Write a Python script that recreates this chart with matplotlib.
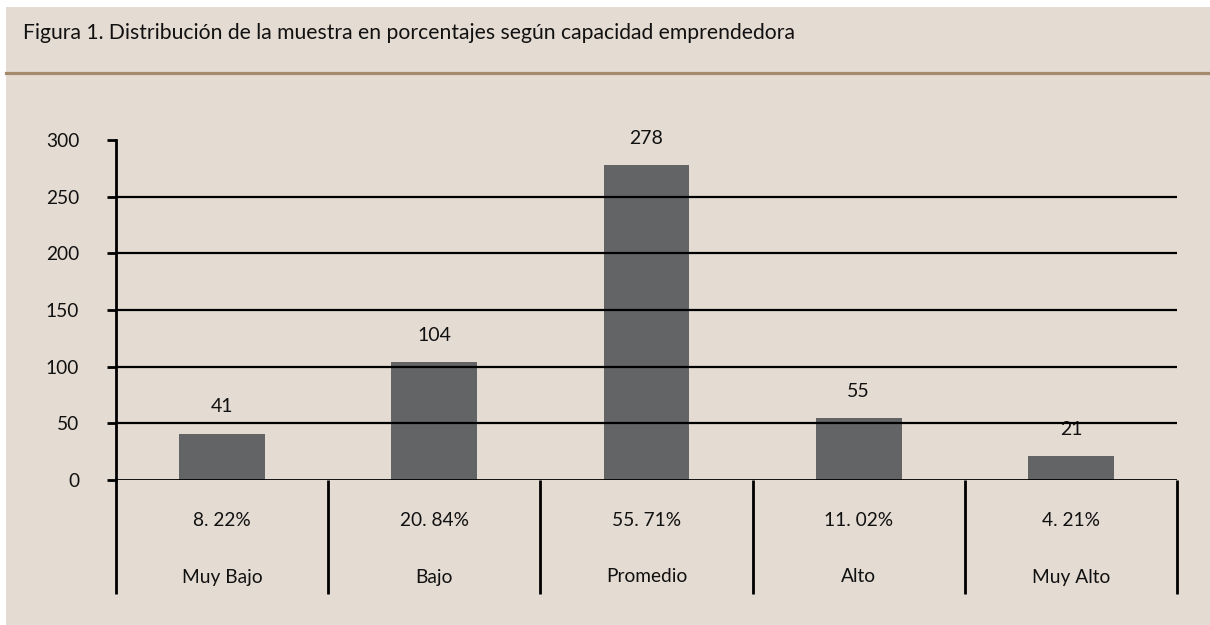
import matplotlib
matplotlib.use("Agg")
import matplotlib.pyplot as plt
from matplotlib import font_manager
from matplotlib.patches import Rectangle
from matplotlib.lines import Line2D

categories = ["Muy Bajo", "Bajo", "Promedio", "Alto", "Muy Alto"]
counts = [41, 104, 278, 55, 21]
percent_labels = ["8. 22%", "20. 84%", "55. 71%", "11. 02%", "4. 21%"]
yticks = [0, 50, 100, 150, 200, 250, 300]
title = "Figura 1. Distribución de la muestra en porcentajes según capacidad emprendedora"

names = {f.name for f in font_manager.fontManager.ttflist}
font = "DejaVu Sans"
for cand in ["Lato", "Open Sans", "Noto Sans"]:
    if cand in names:
        font = cand
        break
plt.rcParams["font.family"] = [font, "DejaVu Sans"]

W, H = 1210, 625
fig = plt.figure(figsize=(W / 100, H / 100), dpi=100, facecolor="white")
bg = "#e4dcd3"
fig.patches.append(Rectangle((6 / W, 0), 1 - 6 / W, 1 - 7 / H, transform=fig.transFigure,
                             facecolor=bg, edgecolor="none", zorder=-10))
fig.lines.append(Line2D([6 / W, 1], [1 - 72.5 / H, 1 - 72.5 / H], transform=fig.transFigure,
                        color="#a68a6e", lw=2.3, zorder=-5))
fig.text(23 / W, 1 - 33 / H, title, fontsize=15.2, va="center", ha="left", color="#111111")

left, right = 116 / W, 1177 / W
bottom, top = 1 - 480 / H, 1 - 140 / H
ax = fig.add_axes([left, bottom, right - left, top - bottom])
ax.set_facecolor("none")
n = len(categories)
x = list(range(n))
ax.set_xlim(-0.5, n - 0.5)
ax.set_ylim(0, 300)

ax.bar(x, counts, width=0.405, color="#636466", zorder=2)
for xi, c in zip(x, counts):
    ax.annotate(str(c), (xi, c), xytext=(0, 13), textcoords="offset points",
                ha="center", va="bottom", fontsize=14, color="#111111")

for s in ["top", "right", "bottom"]:
    ax.spines[s].set_visible(False)
ax.spines["left"].set_linewidth(2.0)
ax.spines["left"].set_bounds(0, 300)
ax.set_xticks([])
ax.set_yticks(yticks)
ax.set_yticklabels([str(t) for t in yticks], fontsize=13.8, color="#111111")
ax.tick_params(axis="y", length=6.5, width=2.0, pad=20, color="black")

# horizontal gridlines (0..250)
for t in yticks[:-1]:
    ax.axhline(t, color="black", lw=1.6 if t else 2.0, zorder=3)

# table dividers below the axis
bounds = [i - 0.5 for i in range(n + 1)]
ybot = -(594 - 480) / (340 / 300)
ax.vlines(bounds, ybot, 0, colors="black", lw=2.0, clip_on=False)

ypct = -(520 - 480) / (340 / 300)
ycat = -(577 - 480) / (340 / 300)
for xi, p, c in zip(x, percent_labels, categories):
    ax.text(xi, ypct, p, ha="center", va="center", fontsize=13.8, color="#111111")
    ax.text(xi, ycat, c, ha="center", va="center", fontsize=13.8, color="#111111")

fig.savefig("out.png", dpi=100, facecolor="white")
